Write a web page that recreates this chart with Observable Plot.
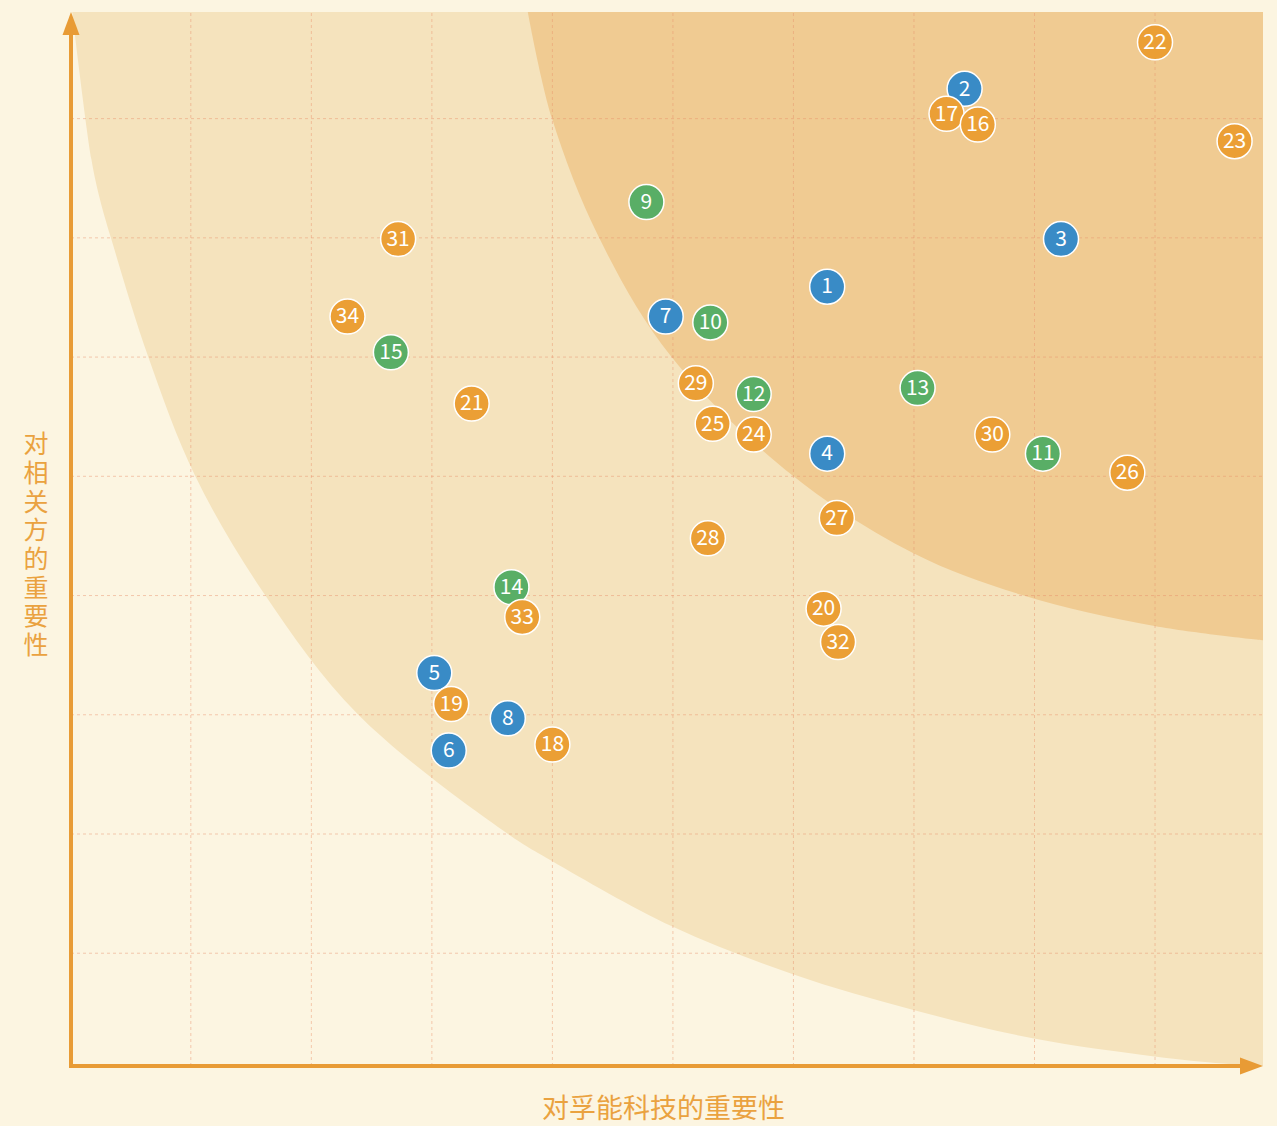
<!DOCTYPE html>
<html>
<head>
<meta charset="utf-8">
<script src="https://cdn.jsdelivr.net/npm/d3@7"></script>
<script src="https://cdn.jsdelivr.net/npm/@observablehq/plot@0.6"></script>
<style>
  html, body { margin: 0; padding: 0; background: #fcf5e1; }
  #chart { width: 1277px; height: 1126px; }
</style>
</head>
<body>
<div id="chart"></div>
<script>
// ---- data ----
const ids    = [1,2,3,4,5,6,7,8,9,10,11,12,13,14,15,16,17,18,19,20,21,22,23,24,25,26,27,28,29,30,31,32,33,34];
const xVals  = [6.28,7.42,8.22,6.28,3.02,3.14,4.94,3.63,4.78,5.31,8.07,5.67,7.03,3.66,2.66,7.53,7.27,4.00,3.16,6.25,3.33,9.00,9.66,5.67,5.33,8.77,6.36,5.29,5.19,7.65,2.72,6.37,3.75,2.30];
const yVals  = [6.59,8.25,6.99,5.19,3.35,2.70,6.34,2.97,7.30,6.29,5.19,5.69,5.74,4.07,6.04,7.95,8.04,2.75,3.09,3.89,5.61,8.64,7.81,5.35,5.44,5.03,4.65,4.48,5.78,5.35,6.99,3.61,3.82,6.34];
const groups = ["B","B","B","B","B","B","B","B","G","G","G","G","G","G","G","O","O","O","O","O","O","O","O","O","O","O","O","O","O","O","O","O","O","O"];

// zone boundaries
const outerX = [0.02,0.18,0.25,0.34,0.65,1.04,1.62,2.39,3.63,4.00,5.00,6.00,7.00,8.00,9.00,9.57,9.90];
const outerY = [8.89,7.65,7.32,7.00,6.00,5.00,4.00,3.00,2.00,1.77,1.22,0.82,0.52,0.28,0.13,0.07,0.05];
const innerX = [3.80,4.00,4.39,4.99,6.00,7.00,7.90,9.00,9.90];
const innerY = [8.89,8.00,7.00,6.00,5.00,4.35,4.00,3.74,3.62];

const xGrid = [1,2,3,4,5,6,7,8,9];
const yGrid = [1,2,3,4,5,6,7,8];
const xDomain = [0.01, 9.9];
const yDomain = [0.05, 8.89];

const xLabel = "对孚能科技的重要性";
const yLabel = "对相关方的重要性";

const groupKeys = ["B","G","O"];
const groupColors = ["#398bc6","#59ae66","#eb9f35"];

// ---- tables ----
const points = d3.sort(ids.map((id, i) => ({id, x: xVals[i], y: yVals[i], group: groups[i]})), d => -d.y);
const outer = outerX.map((x, i) => ({x, y: outerY[i]}));
const inner = innerX.map((x, i) => ({x, y: innerY[i]}));

const axisColor = "#e89b35";
const labelColor = "#eaa23f";

function axesMark(index, scales, values, dim) {
  const g = d3.create("svg:g");
  const left = dim.marginLeft;
  const bottom = dim.height - dim.marginBottom;
  const top = dim.marginTop;
  const right = dim.width - dim.marginRight;
  g.append("line").attr("x1", left).attr("x2", left).attr("y1", bottom + 2).attr("y2", top + 20)
    .attr("stroke", axisColor).attr("stroke-width", 4);
  g.append("line").attr("x1", left - 2).attr("x2", right - 20).attr("y1", bottom).attr("y2", bottom)
    .attr("stroke", axisColor).attr("stroke-width", 4);
  g.append("polygon").attr("points", `${left},${top} ${left - 8.5},${top + 23} ${left + 8.5},${top + 23}`)
    .attr("fill", axisColor);
  g.append("polygon").attr("points", `${right},${bottom} ${right - 23},${bottom - 8.5} ${right - 23},${bottom + 8.5}`)
    .attr("fill", axisColor);
  // vertical (upright, stacked) y-axis title
  g.append("text")
    .attr("x", left - 35)
    .attr("y", (top + bottom) / 2 + 7)
    .attr("writing-mode", "vertical-rl")
    .attr("text-anchor", "middle")
    .attr("dominant-baseline", "central")
    .attr("letter-spacing", "3.7px")
    .attr("font-size", 25)
    .attr("fill", labelColor)
    .text(yLabel);
  return g.node();
}

const chart = Plot.plot({
  width: 1277,
  height: 1126,
  marginLeft: 71,
  marginRight: 14,
  marginTop: 12,
  marginBottom: 60,
  style: { background: "transparent", fontFamily: "'Noto Sans CJK SC', 'Noto Sans', sans-serif" },
  x: { domain: xDomain, axis: null },
  y: { domain: yDomain, axis: null },
  color: { domain: groupKeys, range: groupColors },
  marks: [
    Plot.areaY(outer, { x: "x", y1: "y", y2: yDomain[1], curve: "catmull-rom", fill: "#f5e3bd" }),
    Plot.areaY(inner, { x: "x", y1: "y", y2: yDomain[1], curve: "catmull-rom", fill: "#f0cb92" }),
    Plot.ruleX(xGrid, { y1: yDomain[0], y2: yDomain[1], stroke: "#e8906a", strokeOpacity: 0.45, strokeDasharray: "3,3" }),
    Plot.ruleY(yGrid, { x1: xDomain[0], x2: xDomain[1], stroke: "#e8906a", strokeOpacity: 0.45, strokeDasharray: "3,3" }),
    axesMark,
    Plot.dot(points, { x: "x", y: "y", r: 17.5, fill: "group", stroke: "white", strokeWidth: 1.5 }),
    Plot.text(points, { x: "x", y: "y", text: "id", fill: "white", fontSize: 21 }),
    Plot.text([xLabel], { frameAnchor: "bottom", text: d => d, dx: -4, dy: 51, fontSize: 27, fill: labelColor })
  ]
});
document.getElementById("chart").appendChild(chart);
</script>
</body>
</html>
